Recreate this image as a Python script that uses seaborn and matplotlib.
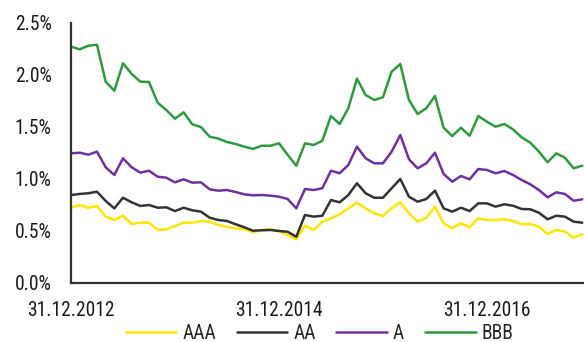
import matplotlib
matplotlib.use("Agg")
import matplotlib.pyplot as plt
from matplotlib import font_manager
from matplotlib.font_manager import FontProperties
from matplotlib.textpath import TextPath
import seaborn as sns
import pandas as pd
import numpy as np

# ---- data (month-end observations, Dec 2012 - Nov 2017), in % ----
dates = pd.date_range("2012-12-31", periods=60, freq="ME")

aaa = [0.721, 0.747, 0.721, 0.738, 0.635, 0.603, 0.644, 0.564, 0.577, 0.577, 0.507, 0.513,
       0.545, 0.577, 0.577, 0.593, 0.587, 0.555, 0.538, 0.523, 0.516, 0.485, 0.507, 0.513,
       0.497, 0.459, 0.417, 0.548, 0.507, 0.587, 0.619, 0.658, 0.715, 0.769, 0.715, 0.667,
       0.641, 0.715, 0.773, 0.667, 0.587, 0.625, 0.731, 0.571, 0.523, 0.571, 0.533, 0.619,
       0.603, 0.603, 0.610, 0.593, 0.562, 0.564, 0.538, 0.468, 0.507, 0.490, 0.433, 0.465]

aa = [0.843, 0.853, 0.860, 0.875, 0.786, 0.715, 0.817, 0.773, 0.738, 0.747, 0.721, 0.725,
      0.689, 0.721, 0.696, 0.683, 0.625, 0.603, 0.593, 0.562, 0.533, 0.500, 0.504, 0.507,
      0.497, 0.490, 0.442, 0.651, 0.635, 0.644, 0.795, 0.773, 0.843, 0.956, 0.860, 0.817,
      0.817, 0.908, 0.997, 0.827, 0.779, 0.805, 0.885, 0.715, 0.683, 0.721, 0.689, 0.763,
      0.763, 0.731, 0.754, 0.740, 0.709, 0.706, 0.673, 0.610, 0.644, 0.635, 0.587, 0.577]

a = [1.244, 1.250, 1.231, 1.260, 1.110, 1.036, 1.196, 1.110, 1.058, 1.077, 1.019, 1.010,
     0.965, 0.994, 0.962, 0.965, 0.898, 0.885, 0.891, 0.872, 0.850, 0.840, 0.843, 0.837,
     0.827, 0.805, 0.715, 0.901, 0.891, 0.908, 1.077, 1.052, 1.132, 1.308, 1.196, 1.148,
     1.148, 1.260, 1.420, 1.187, 1.100, 1.148, 1.250, 1.045, 0.971, 1.026, 0.994, 1.093,
     1.084, 1.052, 1.074, 1.036, 0.988, 0.946, 0.891, 0.821, 0.869, 0.853, 0.788, 0.802]

bbb = [2.270, 2.244, 2.279, 2.288, 1.933, 1.846, 2.110, 2.007, 1.933, 1.930, 1.731, 1.660,
       1.577, 1.638, 1.523, 1.497, 1.404, 1.385, 1.353, 1.334, 1.308, 1.286, 1.317, 1.317,
       1.340, 1.230, 1.125, 1.340, 1.324, 1.365, 1.603, 1.526, 1.677, 1.962, 1.805, 1.757,
       1.783, 2.029, 2.103, 1.757, 1.622, 1.677, 1.795, 1.490, 1.410, 1.490, 1.413, 1.603,
       1.548, 1.500, 1.526, 1.475, 1.398, 1.346, 1.260, 1.158, 1.244, 1.202, 1.100, 1.125]

series_names = ["AAA", "AA", "A", "BBB"]
colors = ["#FFE500", "#333333", "#7030A0", "#2E9A3E"]
yticks = [0.0, 0.5, 1.0, 1.5, 2.0, 2.5]
xtick_dates = ["2012-12-31", "2014-12-31", "2016-12-31"]

# ---- build long-form table ----
idx = np.arange(len(dates))
df = pd.concat([
    pd.DataFrame({"idx": idx, "value": vals, "rating": name})
    for name, vals in zip(series_names, [aaa, aa, a, bbb])
], ignore_index=True)

sns.set_theme(style="white")

# ---- pick a condensed sans face if one is installed ----
def _is_condensed(e):
    st = e.stretch
    if isinstance(st, str):
        return st in ("condensed", "semi-condensed", "extra-condensed", "ultra-condensed")
    return st < 500

cands = [e for e in font_manager.fontManager.ttflist
         if _is_condensed(e) and e.style == "normal"
         and (e.weight in (400, "normal", "regular", "book"))]
pref = ["Liberation Sans Narrow", "Arial Narrow", "Roboto Condensed", "Open Sans Condensed",
        "Noto Sans", "Noto Sans Condensed", "DejaVu Sans", "Inter"]
chosen = None
for p in pref:
    for e in cands:
        if e.name == p and "Mono" not in e.fname and "Serif" not in e.fname:
            chosen = e
            break
    if chosen:
        break
if chosen is not None:
    plt.rcParams["font.family"] = [chosen.name, "DejaVu Sans"]
    plt.rcParams["font.stretch"] = chosen.stretch
    fp = FontProperties(fname=chosen.fname)
else:
    plt.rcParams["font.family"] = ["Liberation Sans", "DejaVu Sans"]
    fp = FontProperties(family="Liberation Sans")

# size text so the tick labels have the reference's width / height
ext = TextPath((0, 0), "31.12.2014", size=100, prop=fp).get_extents()
fs_w = 86 * 72 / ext.width
fs_h = 14.3 * 72 / ext.height
fs = min(fs_w, fs_h)

fig = plt.figure(figsize=(5.84, 3.42), dpi=100)
ax = fig.add_axes([71 / 584, 1 - 282.7 / 342, 1 - 71 / 584, (282.7 - 22.7) / 342])

sns.lineplot(data=df, x="idx", y="value", hue="rating", hue_order=series_names,
             palette=colors, linewidth=1.8, ax=ax, legend=True)

ax.set_xlim(0, 59.2)
ax.set_ylim(0, 2.5)
ax.set_yticks(yticks)
ax.set_yticklabels([f"{v:.1f}%" for v in yticks])
xt = [int(np.where(dates == pd.Timestamp(d))[0][0]) for d in xtick_dates]
ax.set_xticks(xt)
ax.set_xticklabels([pd.Timestamp(d).strftime("%d.%m.%Y") for d in xtick_dates])
ax.set_xlabel("")
ax.set_ylabel("")

for s in ["top", "right"]:
    ax.spines[s].set_visible(False)
for s in ["left", "bottom"]:
    ax.spines[s].set_color("#333333")
    ax.spines[s].set_linewidth(1.6)

ax.tick_params(axis="both", which="major", direction="out", length=5, width=1.3,
               color="#333333", labelsize=fs, labelcolor="#1a1a1a")
ax.tick_params(axis="y", pad=9)
ax.tick_params(axis="x", pad=8)

ax.get_legend().remove()
handles, labels = ax.get_legend_handles_labels()
fig.legend(handles, labels, loc="center", bbox_to_anchor=(319.5 / 584, 1 - 333.5 / 342),
           ncol=4, frameon=False, fontsize=fs, handlelength=2.6, handletextpad=0.3,
           columnspacing=1.05, borderpad=0, borderaxespad=0)

fig.savefig("out.png", dpi=100)
